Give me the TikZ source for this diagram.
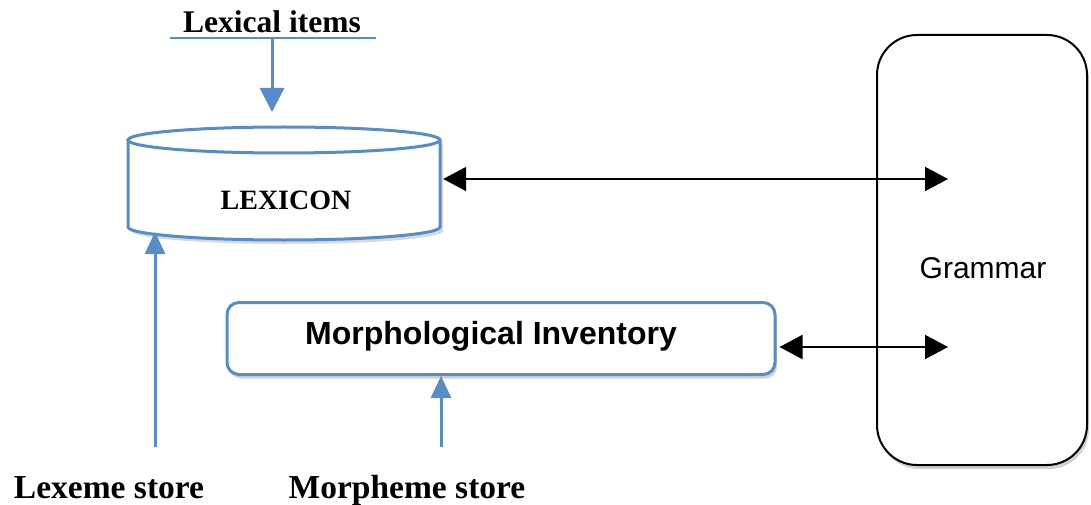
\documentclass[tikz,border=0pt]{standalone}
\usepackage{fontspec}
\setmainfont{Liberation Serif}
\newfontfamily\arialfont{Liberation Sans}
\usetikzlibrary{arrows.meta,shadows}
\definecolor{lineblue}{RGB}{88,140,200}
\tikzset{
  soft shadow/.style={drop shadow={shadow xshift=2pt,shadow yshift=-4pt,opacity=0.18,fill=black}},
  bluearrow/.style={draw=lineblue,line width=3pt,-{Triangle[width=24pt,length=24pt]},color=lineblue},
  bluearrowsmall/.style={draw=lineblue,line width=3pt,-{Triangle[width=20pt,length=22pt]},color=lineblue},
  blackarrow/.style={draw=black,line width=2pt,{Triangle[width=24pt,length=23pt]}-{Triangle[width=24pt,length=23pt]}},
  serifbold/.style={font=\fontsize{#1}{#1}\selectfont\bfseries,inner sep=0pt},
}
\begin{document}
\begin{tikzpicture}[x=1pt,y=-1pt]
\useasboundingbox (0,0) rectangle (1091,505);

% Grammar component
\node[draw=black,line width=2pt,rounded corners=40pt,minimum width=210pt,minimum height=430pt,
      fill=white,soft shadow,inner sep=0pt] (grammar) at (982,250) {};
\node[font=\arialfont\fontsize{30}{30}\selectfont,inner sep=0pt] (gtext) at (983,268) {Grammar};
\coordinate (g1) at (948,179);
\coordinate (g2) at (948,347);

% Lexicon drum
\node[minimum width=312pt,minimum height=113pt,inner sep=0pt] (lex) at (284,183.5) {};
\fill[black,opacity=0.15] (131,144) -- (131,231)
   .. controls (131,238.2) and (201,244) .. (287,244)
   .. controls (373,244) and (443,238.2) .. (443,231) -- (443,144) -- cycle;
\filldraw[draw=lineblue,fill=white,line width=3pt] (128,140) -- (128,227)
   .. controls (128,234.2) and (198,240) .. (284,240)
   .. controls (370,240) and (440,234.2) .. (440,227) -- (440,140);
\draw[lineblue,line width=3pt,fill=white] (284,140) ellipse (156 and 13);
\node[serifbold=28] (lextext) at (286,200) {LEXICON};

% Lexical items input
\node[serifbold=31.5,anchor=base] (lexitems) at (272,33) {Lexical items};
\coordinate (ulA) at (170,38);
\coordinate (ulB) at (376,38);
\coordinate (ulM) at (272,38);
\coordinate (lexTip) at (272,112);
\draw[lineblue,line width=2.5pt] (ulA) -- (ulB);
\draw[bluearrow] (ulM) -- (lexTip);

% Morphological inventory
\node[draw=lineblue,line width=3pt,rounded corners=12pt,minimum width=548pt,minimum height=72pt,
      fill=white,soft shadow,inner sep=0pt] (morph) at (501,338.5) {};
\node[font=\arialfont\bfseries\fontsize{32}{32}\selectfont,inner sep=0pt] (morphtext) at (491,336) {Morphological Inventory};

% Stores
\node[serifbold=33.5,anchor=base] (lexeme) at (109,498) {Lexeme store};
\node[serifbold=33.5,anchor=base] (morpheme) at (407,498) {Morpheme store};
\coordinate (lexA) at (155,447);
\coordinate (lexB) at (155,232);
\coordinate (morA) at (441,447);
\draw[bluearrowsmall] (lexA) -- (lexB);
\draw[bluearrowsmall] (morA) -- (morph.south -| morA);

% Links to the grammar
\draw[blackarrow] ([xshift=3pt]lex.east |- g1) -- (g1);
\draw[blackarrow] ([xshift=3pt]morph.east |- g2) -- (g2);
\end{tikzpicture}
\end{document}
